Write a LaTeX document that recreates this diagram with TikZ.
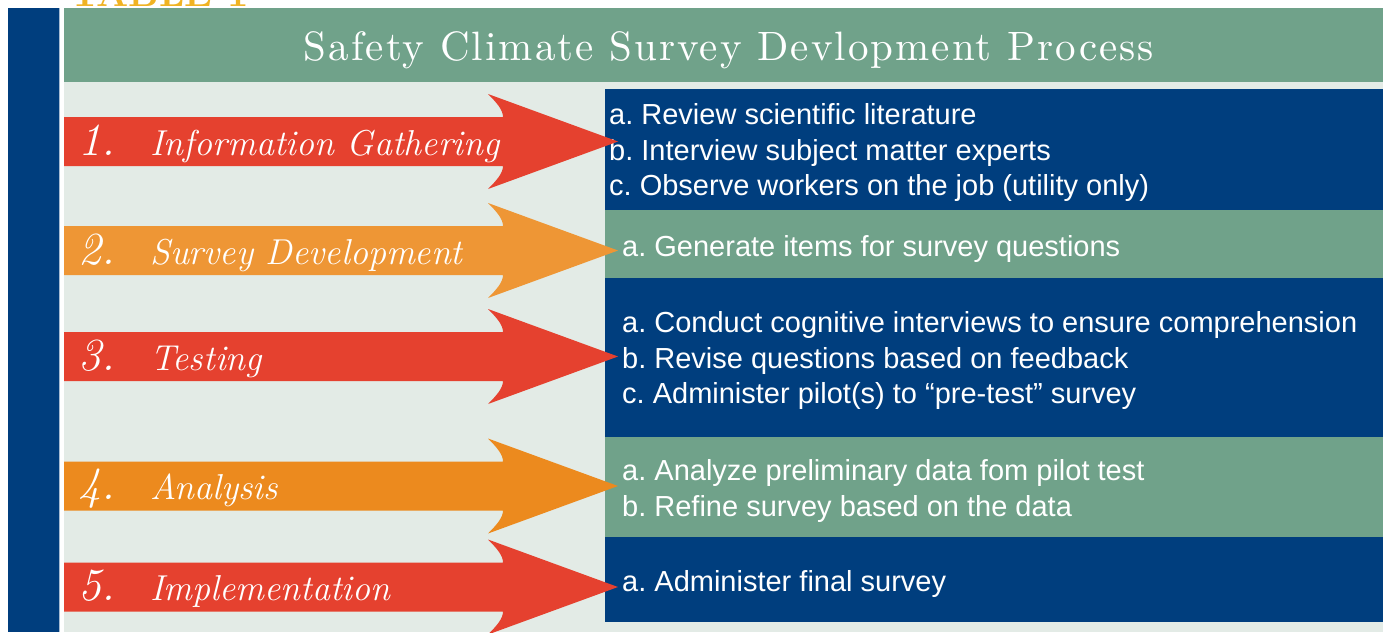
\documentclass[tikz,border=0pt]{standalone}
\usepackage{fontspec}
\newfontfamily\boxfont{Liberation Sans}
\newfontfamily\titlefont[LetterSpace=5]{lmroman10-regular.otf}
\usetikzlibrary{calc}

\definecolor{navy}{RGB}{0,62,126}
\definecolor{sage}{RGB}{112,162,138}
\definecolor{mist}{RGB}{227,235,230}
\definecolor{tomato}{RGB}{229,65,47}
\definecolor{amber}{RGB}{238,150,53}
\definecolor{tangerine}{RGB}{236,138,30}
\definecolor{gold}{RGB}{240,179,35}

\newcommand{\stepnum}{\fontsize{46}{46}\selectfont}

\tikzset{
  infobox/.style={anchor=north west, minimum width=778pt, inner sep=0pt},
  boxtext/.style={anchor=west, inner sep=0pt, align=left, text=white,
    font=\boxfont\fontsize{29}{35.5}\selectfont\frenchspacing},
  steplabel/.style={anchor=base west, text=white, inner sep=0pt,
    font=\itshape\fontsize{36}{40}\selectfont}
}

\begin{document}
\begin{tikzpicture}[x=1pt,y=-1pt]
    \clip (0,0) rectangle (1383,632);
    \fill[white] (0,0) rectangle (1383,632);

    % frame
    \node[anchor=base west, text=gold, inner sep=0pt, font=\bfseries\fontsize{38}{38}\selectfont] (tablehead) at (70,6) {TABLE 1};
    \fill[navy] (8,8) rectangle (59,632);
    \draw[navy!35, line width=1pt] (59.5,8) -- (59.5,632);
    \fill[mist] (64,82) rectangle (1383,632);
    \node[fill=sage, anchor=north west, minimum width=1319pt, minimum height=74pt, inner sep=0pt] (header) at (64,8) {};
    \node[anchor=base, text=white, inner sep=0pt, font=\titlefont\fontsize{41}{41}\selectfont] (title) at (729,60) {Safety Climate Survey Devlopment Process};

    % right boxes
    \node[infobox, fill=navy, minimum height=121pt] (gatherbox) at (605,89) {};
    \node[infobox, fill=sage, minimum height=68pt] (surveybox) at (605,210) {};
    \node[infobox, fill=navy, minimum height=159pt] (testbox) at (605,278) {};
    \node[infobox, fill=sage, minimum height=100pt] (analysisbox) at (605,437) {};
    \node[infobox, fill=navy, minimum height=85pt] (implementbox) at (605,537) {};

    \node[boxtext] (gathertext) at ($(gatherbox.west)+(4,3)$)
        {a. Review scientific literature\\ b. Interview subject matter experts\\ c. Observe workers on the job (utility only)};
    \node[boxtext] (surveytext) at ($(surveybox.west)+(17,5)$)
        {a. Generate items for survey questions};
    \node[boxtext] (testtext) at ($(testbox.west)+(17,3)$)
        {a. Conduct cognitive interviews to ensure comprehension\\ b. Revise questions based on feedback\\ c. Administer pilot(s) to “pre-test” survey};
    \node[boxtext] (analysistext) at ($(analysisbox.west)+(17,4)$)
        {a. Analyze preliminary data fom pilot test\\ b. Refine survey based on the data};
    \node[boxtext] (implementtext) at ($(implementbox.west)+(17,4)$)
        {a. Administer final survey};

    % arrows
    \foreach \c/\col in {141.5/tomato, 250.5/amber, 356.5/tomato, 486/tangerine, 587/tomato}
        \fill[\col] (64,\c-24.5) -- (503,\c-24.5) .. controls (503,\c-31.5) and (497,\c-38.5) .. (488,\c-47.5)
            -- (618,\c) -- (488,\c+47.5) .. controls (497,\c+38.5) and (503,\c+31.5) .. (503,\c+24.5)
            -- (64,\c+24.5) -- cycle;

    \node[steplabel] (gather) at (78,155) {\makebox[72pt][l]{\stepnum 1.}Information Gathering};
    \node[steplabel] (survey) at (78,264) {\makebox[72pt][l]{\stepnum 2.}Survey Development};
    \node[steplabel] (testing) at (78,370) {\makebox[72pt][l]{\stepnum 3.}Testing};
    \node[steplabel] (analysis) at (78,499.5) {\makebox[72pt][l]{\stepnum 4.}Analysis};
    \node[steplabel] (implement) at (78,600.5) {\makebox[72pt][l]{\stepnum 5.}Implementation};
\end{tikzpicture}
\end{document}
